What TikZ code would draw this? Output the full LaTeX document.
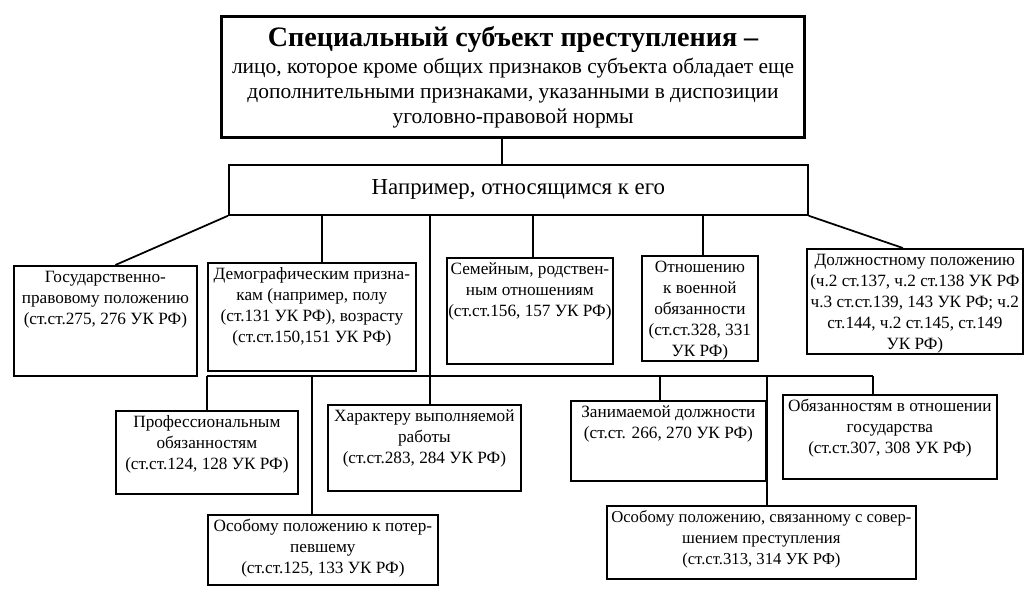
\documentclass[tikz,border=0pt]{standalone}
\usepackage{fontspec}
\setmainfont{Liberation Serif}
\usetikzlibrary{positioning,calc}

\newlength\pxu
\setlength\pxu{0.02cm}
\newcommand{\boxtxt}[3]{\parbox[c][#2\pxu][t]{#1\pxu}{\centering\vspace*{1pt}\begin{tabular}{@{}c@{}}#3\end{tabular}}}

\begin{document}
\begin{tikzpicture}[
    x=0.02cm, y=-0.02cm,
    box/.style={rectangle, draw=black, line width=1pt, inner sep=0pt, anchor=north west, font=\fontsize{9.8}{12}\selectfont},
    headbox/.style={rectangle, draw=black, line width=1.8pt, inner sep=0pt, anchor=north west, minimum width=583\pxu, minimum height=121\pxu, align=center, font=\fontsize{12.2}{14.2}\selectfont},
    midbox/.style={rectangle, draw=black, line width=1pt, inner sep=0pt, anchor=north west, minimum width=579\pxu, minimum height=50\pxu, font=\fontsize{13}{15}\selectfont},
    link/.style={draw=black, line width=1pt}
]
\useasboundingbox[fill=white] (0,0) rectangle (1024,593);

% Top: definition
\node[headbox] (head) at (220,15) {{\fontsize{16}{18}\selectfont\bfseries Специальный субъект преступления --}\\[1pt]
  лицо, которое кроме общих признаков субъекта обладает еще\\
  дополнительными признаками, указанными в диспозиции\\
  уголовно-правовой нормы};
\node[midbox] (nap) at (228,164) {Например, относящимся к его};

% Row 1
\node[box] (gos) at (13,265) {\boxtxt{183}{110}{Государственно-\\правовому положению\\(ст.ст.275, 276 УК РФ)}};
\node[box] (demo) at (207,262) {\boxtxt{208}{108}{Демографическим призна-\\кам (например, полу\\(ст.131 УК РФ), возрасту\\(ст.ст.150,151 УК РФ)}};
\node[box] (sem) at (446,257) {\boxtxt{166}{106}{Семейным, родствен-\\ным отношениям\\(ст.ст.156, 157 УК РФ)}};
\node[box] (voen) at (641,255) {\boxtxt{116}{105}{Отношению\\к военной\\обязанности\\(ст.ст.328, 331\\УК РФ)}};
\node[box] (dol) at (806,248) {\boxtxt{216}{105}{Должностному положению\\(ч.2 ст.137, ч.2 ст.138 УК РФ\\ч.3 ст.ст.139, 143 УК РФ; ч.2\\ст.144, ч.2 ст.145, ст.149\\УК РФ)}};

% Row 2
\node[box] (prof) at (115,410) {\boxtxt{182}{83}{Профессиональным\\обязанностям\\(ст.ст.124, 128 УК РФ)}};
\node[box] (har) at (327,404) {\boxtxt{193}{86}{Характеру выполняемой\\работы\\(ст.ст.283, 284 УК РФ)}};
\node[box] (zan) at (570,400) {\boxtxt{195}{80}{Занимаемой должности\\(ст.ст. 266, 270 УК РФ)}};
\node[box] (obz) at (782,394) {\boxtxt{214}{84}{Обязанностям в отношении\\государства\\(ст.ст.307, 308 УК РФ)}};
\node[box] (pot) at (207,514) {\boxtxt{230}{70}{Особому положению к потер-\\певшему\\(ст.ст.125, 133 УК РФ)}};
\node[box, font=\fontsize{9.5}{12}\selectfont] (sov) at (606,505) {\boxtxt{309}{73}{Особому положению, связанному с совер-\\шением преступления\\(ст.ст.313, 314 УК РФ)}};

% Columns and bus
\coordinate (t0) at (502,0);
\coordinate (t2) at (322,0);
\coordinate (t3) at (430,0);
\coordinate (t4) at (533,0);
\coordinate (t5) at (703,0);
\coordinate (busL) at (207,376);
\coordinate (busR) at (873,376);
\coordinate (b2) at (312,376);
\coordinate (b4) at (660,376);
\coordinate (b5) at (767,376);

% Connect
\draw[link] (head.south -| t0) -- (nap.north -| t0);
\draw[link] (nap.south west) -- ($(gos.north)+(10,0)$);
\draw[link] (t2 |- nap.south) -- (t2 |- demo.north);
\draw[link] (t3 |- nap.south) -- (t3 |- har.north);
\draw[link] (t4 |- nap.south) -- (t4 |- sem.north);
\draw[link] (t5 |- nap.south) -- (t5 |- voen.north);
\draw[link] (nap.south east) -- ($(dol.north)+(-12,0)$);

\draw[link] (busL) -- (busR);
\draw[link] (busL) -- (busL |- prof.north);
\draw[link] (b2) -- (b2 |- pot.north);
\draw[link] (b4) -- (b4 |- zan.north);
\draw[link] (b5) -- (b5 |- sov.north);
\draw[link] (busR) -- (busR |- obz.north);

\end{tikzpicture}
\end{document}
